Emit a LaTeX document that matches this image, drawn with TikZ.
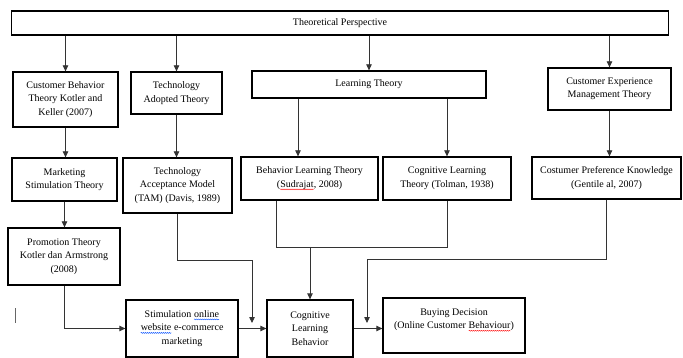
\documentclass[tikz,border=0pt]{standalone}
\usepackage{fontspec}
\setmainfont{Liberation Serif}
\usetikzlibrary{arrows.meta,decorations.pathmorphing}
\newcommand\wavy[2]{\tikz[baseline=(w.base), x=1pt, y=1pt]{\node[draw=none, inner sep=0pt, outer sep=0pt, minimum width=0pt, minimum height=0pt, anchor=base](w) at (0,0) {#2}; \draw[draw=#1, line width=0.4pt, decorate, decoration={snake, amplitude=0.5pt, segment length=2pt}] ([yshift=-2pt]w.base west) -- ([yshift=-2pt]w.base east);}}
\tikzset{
  box/.style={draw=black, line width=1.3pt, rectangle, align=center, inner sep=1pt,
    font=\fontsize{10}{13.5}\selectfont, text=black},
  conn/.style={draw=black!80, line width=0.8pt},
  arr/.style={conn, -{Triangle[length=6pt,width=5.5pt]}},
}
\begin{document}
\begin{tikzpicture}[x=1pt,y=-1pt]
\useasboundingbox (0,0) rectangle (683,358);
\node[box, minimum width=657pt, minimum height=24pt] (top) at (340,23) {Theoretical Perspective};
\node[box, minimum width=105pt, minimum height=55pt] (cb) at (65.5,99.5) {Customer Behavior\\Theory Kotler and\\Keller (2007)};
\node[box, minimum width=91pt, minimum height=42pt] (ta) at (176.5,93) {Technology\\Adopted Theory};
\node[box, minimum width=234pt, minimum height=27pt] (lt) at (369,84.5) {Learning Theory};
\node[box, minimum width=123pt, minimum height=42pt] (cem) at (609.5,89) {Customer Experience\\Management Theory};
\node[box, minimum width=105pt, minimum height=43pt] (ms) at (64.5,179.5) {Marketing\\Stimulation Theory};
\node[box, minimum width=109pt, minimum height=55pt] (tam) at (177.5,185.5) {Technology\\Acceptance Model\\(TAM) (Davis, 1989)};
\node[box, minimum width=137pt, minimum height=43pt] (blt) at (309.5,178.5) {Behavior Learning Theory\\(\wavy{red}{Sudrajat}, 2008)};
\node[box, minimum width=128pt, minimum height=43pt] (clt) at (447,178.5) {Cognitive Learning\\Theory (Tolman, 1938)};
\node[box, minimum width=149pt, minimum height=42pt] (cpk) at (606.5,178) {Costumer Preference Knowledge\\(Gentile al, 2007)};
\node[box, minimum width=112pt, minimum height=57pt] (pt) at (64,256.5) {Promotion Theory\\Kotler dan Armstrong\\(2008)};
\node[box, minimum width=112pt, minimum height=57pt] (stim) at (182,328.5) {Stimulation \wavy{blue!70!cyan}{online}\\\wavy{blue!70!cyan}{website} e-commerce\\marketing};
\node[box, minimum width=86pt, minimum height=57pt] (cog) at (310,328.5) {Cognitive\\Learning\\Behavior};
\node[box, minimum width=142pt, minimum height=55pt] (bd) at (454,325.5) {Buying Decision\\(Online Customer \wavy{red}{Behaviour})\\\mbox{}};
% connectors from top
\draw[arr] (top.south -| cb.north) -- (cb.north);
\draw[arr] (top.south -| ta.north) -- (ta.north);
\draw[arr] (top.south -| lt.north) -- (lt.north);
\draw[arr] (top.south -| cem.north) -- (cem.north);
% second level
\draw[arr] (cb.south) -- (cb.south |- ms.north);
\draw[arr] (ta.south) -- (ta.south |- tam.north);
\draw[arr] ([xshift=-71pt]lt.south) -- ([xshift=-71pt]lt.south |- blt.north);
\draw[arr] (lt.south -| clt.north) -- (clt.north);
\draw[arr] (cem.south) -- (cem.south |- cpk.north);
\draw[arr] (ms.south) -- (ms.south |- pt.north);
% lower connectors
\draw[arr] (pt.south) |- (stim.west);
\coordinate (tamk) at (252,260);
\coordinate (tamend) at (252,323);
\draw[arr] (tam.south) |- (tamk) -- (tamend);
\draw[arr] (stim.east) -- (cog.west);
\coordinate (merge) at (310,247);
\draw[conn] ([xshift=-33.5pt]blt.south) |- (merge);
\draw[conn] (clt.south) |- (merge);
\draw[arr] (merge) -- (cog.north);
\coordinate (cpkk) at (367,259);
\coordinate (cpkend) at (367,323);
\draw[arr] (cpk.south) |- (cpkk) -- (cpkend);
\draw[arr] (cog.east) -- (cog.east -| bd.west);
% text cursor mark
\draw[black!60, line width=0.8pt] (15,308) -- (15,323);
\end{tikzpicture}
\end{document}
